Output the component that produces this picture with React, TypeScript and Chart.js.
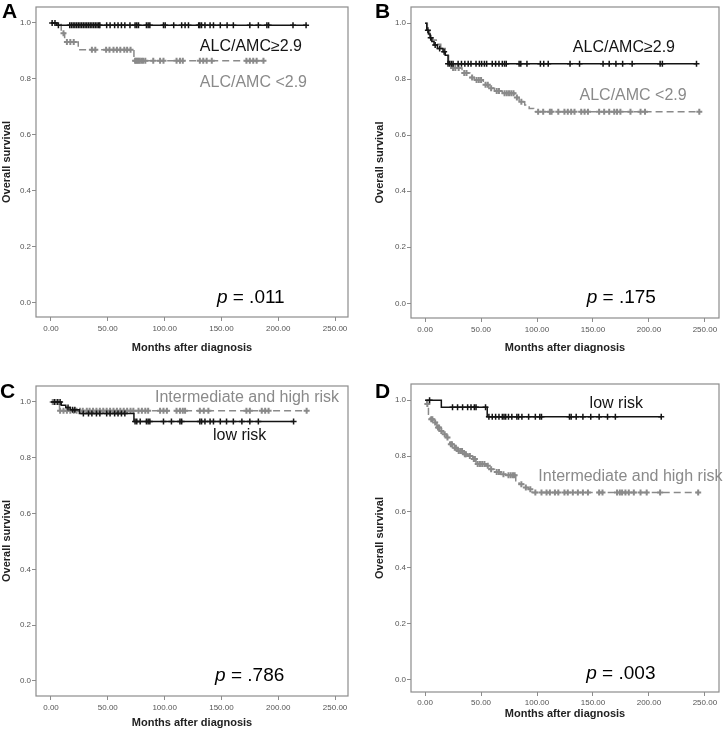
import React, { useEffect, useRef } from 'react';
import { Chart, registerables } from 'chart.js';

Chart.register(...registerables);

const FONT = "'Liberation Sans', Arial, Helvetica, sans-serif";
const BLACK = '#141414';
const GRAY = '#8a8a8a';

const xTickValues = [0, 50, 100, 150, 200, 250];
const yTickValues = [0, 0.2, 0.4, 0.6, 0.8, 1.0];

// ---- Panel A ----
const aHighStepTimes = [0, 5];
const aHighStepSurv = [1.0, 0.992];
const aHighEnd = 225;
const aHighCensor = [1, 3.5, 6.5, 16.5, 18, 19.5, 21, 22.5, 24, 25.5, 27, 28.5, 30, 31.5, 33, 34.5, 36, 37.5, 39, 40.5, 42, 43, 49, 52, 56, 59, 62, 65, 69.5, 74, 75.5, 77, 84, 85.5, 87, 99, 100.5, 108, 115, 118, 121, 130, 131, 132.5, 135.5, 140, 143, 149, 155, 160.5, 175, 182.5, 190, 191.5, 213, 224.5];

const aLowStepTimes = [0, 9, 12, 24, 73];
const aLowStepSurv = [1.0, 0.963, 0.932, 0.904, 0.865];
const aLowEnd = 187;
const aLowCensor = [11, 14, 17, 20, 36, 39, 48.5, 51.5, 55, 58, 61, 64.5, 67, 70, 74, 75, 76, 77, 78, 79.5, 81, 83, 90, 96, 99, 110.5, 113.5, 116, 131, 134, 137, 141.5, 172, 175, 178, 181, 187];

// ---- Panel B ----
const bHighStepTimes = [0, 1.5, 3, 4.5, 6, 8, 11, 16, 18, 20.5];
const bHighStepSurv = [1.0, 0.975, 0.962, 0.948, 0.935, 0.922, 0.91, 0.898, 0.886, 0.855];
const bHighEnd = 242.5;
const bHighCensor = [2.5, 5, 9, 13, 17, 20.5, 22, 23.5, 25, 29.5, 32.5, 35.5, 38.5, 41, 45.5, 48.5, 50.5, 53, 55, 60, 63, 66, 69, 71, 72.5, 84, 85.5, 91, 103, 106, 110, 129.5, 138, 159, 164.5, 170.5, 176.5, 185, 210, 212, 242.5];

const bLowStepTimes = [0, 2, 4, 7, 10, 14, 18, 21, 24, 33, 40, 44, 52, 57, 62, 69, 80, 84, 89, 93, 97];
const bLowStepSurv = [1.0, 0.97, 0.955, 0.94, 0.925, 0.91, 0.89, 0.855, 0.84, 0.822, 0.806, 0.797, 0.78, 0.768, 0.758, 0.75, 0.735, 0.72, 0.708, 0.696, 0.684];
const bLowEnd = 245;
const bLowCensor = [25, 27, 30, 35, 37, 42, 46, 48, 50, 54, 56, 59, 64, 66, 71, 73, 75, 77, 79, 82, 86, 101, 105.5, 111.5, 113, 119, 124.5, 127.5, 130.5, 133.5, 139.5, 142.5, 145.5, 155.5, 160, 164.5, 169, 171.5, 174.5, 183.5, 192.5, 196.5, 245];

// ---- Panel C ----
const cLowStepTimes = [0, 9, 13, 17, 25, 73];
const cLowStepSurv = [1.0, 0.988, 0.98, 0.972, 0.958, 0.93];
const cLowEnd = 213.5;
const cLowCensor = [3, 6, 8, 15, 19, 21, 28.5, 33, 36, 40, 43, 49, 52, 56, 59, 62, 65, 74, 75.5, 78.5, 84, 85.5, 87, 99, 106, 113.5, 115, 131, 132.5, 135.5, 140, 143, 149, 154.5, 160.5, 168, 175, 182.5, 213.5];

const cHighStepTimes = [0, 7.5];
const cHighStepSurv = [1.0, 0.968];
const cHighEnd = 225;
const cHighCensor = [1.5, 4.5, 8, 11, 14, 17, 20, 22.5, 25.5, 28, 31.5, 34, 37, 40, 43, 46, 49, 52, 55, 58, 61, 64, 67, 70, 72.5, 77, 80, 83, 85.5, 96, 99, 102, 110.5, 113.5, 116, 118, 131, 134.5, 138.5, 172, 175, 185.5, 188.5, 191.5, 225];

// ---- Panel D ----
const dLowStepTimes = [0, 14.5, 55.5];
const dLowStepSurv = [1.0, 0.975, 0.941];
const dLowEnd = 211;
const dLowCensor = [4, 24.5, 29, 33.5, 38, 41, 44, 45.5, 54, 57, 60, 63, 66, 69, 70.5, 72, 74.5, 77.5, 82, 83.5, 86.5, 92.5, 98.5, 102.5, 104, 129, 130.5, 135, 141, 148, 155.5, 163, 170, 211];

const dHighStepTimes = [0, 1.5, 3, 4.5, 7.5, 10.5, 13, 16, 19, 22, 25, 29, 34, 38, 42.5, 45.5, 54.5, 57.5, 62, 67.5, 72, 81, 84, 88, 92.5, 95.5];
const dHighStepSurv = [1.0, 0.986, 0.95, 0.932, 0.92, 0.902, 0.89, 0.878, 0.866, 0.842, 0.83, 0.818, 0.806, 0.8, 0.789, 0.771, 0.765, 0.753, 0.743, 0.735, 0.731, 0.711, 0.699, 0.687, 0.681, 0.669];
const dHighEnd = 244;
const dHighCensor = [2, 5.5, 6.5, 9, 11.5, 12.5, 14.5, 17.5, 20, 23, 24, 26.5, 27.5, 30, 31.5, 33, 35.5, 36.5, 40, 43.5, 44.5, 47, 49, 51, 53, 56, 59, 64, 66, 70, 74.5, 76.5, 78.5, 80, 86, 90, 94, 98.5, 104, 108.5, 111.5, 116, 119, 124.5, 127.5, 132, 136.5, 141, 145.5, 155.5, 158.5, 171.5, 174, 176, 179, 182, 186.5, 192.5, 198, 210, 244];

type Group = { times: number[]; surv: number[]; end: number; censor: number[]; color: string; dash: number[]; markW: number };
type Label = { text: string; x: number; y: number; color: string };
type Panel = {
  letter: string; letterX: number; letterY: number;
  left: number; top: number; w: number; h: number;
  box: { l: number; t: number; r: number; b: number };
  xMin: number; xMax: number; yMin: number; yMax: number;
  yTitlePad: number; xTitlePad: number; xTickPad: number;
  groups: Group[]; labels: Label[]; pText: string; pX: number; pY: number;
};

const blackGroup = (times: number[], surv: number[], end: number, censor: number[]): Group => ({ times, surv, end, censor, color: BLACK, dash: [], markW: 1.5 });
const grayGroup = (times: number[], surv: number[], end: number, censor: number[]): Group => ({ times, surv, end, censor, color: GRAY, dash: [7, 4], markW: 2 });

const panels: Panel[] = [
  {
    letter: 'A', letterX: 2, letterY: 18, left: 0, top: 0, w: 362, h: 366,
    box: { l: 36, t: 7, r: 348, b: 317 }, xMin: -13.2, xMax: 261.4, yMin: -0.05, yMax: 1.057,
    yTitlePad: 0, xTitlePad: 11.4, xTickPad: 3,
    groups: [blackGroup(aHighStepTimes, aHighStepSurv, aHighEnd, aHighCensor), grayGroup(aLowStepTimes, aLowStepSurv, aLowEnd, aLowCensor)],
    labels: [{ text: 'ALC/AMC\u22652.9', x: 131, y: 0.9, color: BLACK }, { text: 'ALC/AMC <2.9', x: 131, y: 0.771, color: GRAY }],
    pText: '.011', pX: 146, pY: 0,
  },
  {
    letter: 'B', letterX: 13, letterY: 18, left: 362, top: 0, w: 363, h: 366,
    box: { l: 49, t: 7, r: 361, b: 318 }, xMin: -12.6, xMax: 262.6, yMin: -0.0525, yMax: 1.058,
    yTitlePad: 11.4, xTitlePad: 11.4, xTickPad: 3,
    groups: [blackGroup(bHighStepTimes, bHighStepSurv, bHighEnd, bHighCensor), grayGroup(bLowStepTimes, bLowStepSurv, bLowEnd, bLowCensor)],
    labels: [{ text: 'ALC/AMC\u22652.9', x: 132, y: 0.897, color: BLACK }, { text: 'ALC/AMC <2.9', x: 138, y: 0.726, color: GRAY }],
    pText: '.175', pX: 144.4, pY: 0,
  },
  {
    letter: 'C', letterX: 0, letterY: 32, left: 0, top: 366, w: 362, h: 367,
    box: { l: 36, t: 20, r: 348, b: 330 }, xMin: -13.2, xMax: 261.4, yMin: -0.054, yMax: 1.057,
    yTitlePad: 0, xTitlePad: 3, xTickPad: 3,
    groups: [blackGroup(cLowStepTimes, cLowStepSurv, cLowEnd, cLowCensor), grayGroup(cHighStepTimes, cHighStepSurv, cHighEnd, cHighCensor)],
    labels: [{ text: 'Intermediate and high risk', x: 91.5, y: 1.0, color: GRAY }, { text: 'low risk', x: 142.6, y: 0.864, color: BLACK }],
    pText: '.786', pX: 144.4, pY: 0,
  },
  {
    letter: 'D', letterX: 13, letterY: 32, left: 362, top: 366, w: 363, h: 367,
    box: { l: 49, t: 18, r: 361, b: 326 }, xMin: -12.6, xMax: 262.6, yMin: -0.0455, yMax: 1.058,
    yTitlePad: 11.4, xTitlePad: 12.4, xTickPad: 2,
    groups: [blackGroup(dLowStepTimes, dLowStepSurv, dLowEnd, dLowCensor), grayGroup(dHighStepTimes, dHighStepSurv, dHighEnd, dHighCensor)],
    labels: [{ text: 'low risk', x: 147, y: 0.973, color: BLACK }, { text: 'Intermediate and high risk', x: 101.2, y: 0.711, color: GRAY }],
    pText: '.003', pX: 144, pY: 0,
  },
];

function survivalAt(times: number[], surv: number[], t: number) {
  let s = surv[0];
  for (let i = 0; i < times.length; i++) if (times[i] <= t) s = surv[i];
  return s;
}

function buildDatasets(groups: Group[]) {
  const ds: any[] = [];
  groups.forEach((g) => {
    const line = g.times.map((t, i) => ({ x: t, y: g.surv[i] }));
    line.push({ x: g.end, y: g.surv[g.surv.length - 1] });
    ds.push({
      data: line, stepped: true, borderColor: g.color, borderWidth: 1.5, borderDash: g.dash,
      borderCapStyle: 'butt', pointRadius: 0, fill: false,
    });
    ds.push({
      data: g.censor.map((t) => ({ x: t, y: survivalAt(g.times, g.surv, t) })),
      showLine: false, pointStyle: 'cross', pointRadius: 3, pointBorderWidth: g.markW,
      pointBorderColor: g.color, borderColor: g.color, backgroundColor: g.color,
    });
  });
  return ds;
}

const kmPlugin = {
  id: 'kmDecor',
  beforeDatasetsDraw(chart: any) {
    const { ctx, chartArea } = chart;
    ctx.save();
    ctx.strokeStyle = '#8c8c8c';
    ctx.lineWidth = 1.2;
    ctx.strokeRect(chartArea.left, chartArea.top, chartArea.right - chartArea.left, chartArea.bottom - chartArea.top);
    ctx.restore();
  },
  afterDraw(chart: any, _args: any, opts: any) {
    const p: Panel = opts.panel;
    if (!p) return;
    const { ctx } = chart;
    const xs = chart.scales.x;
    const ys = chart.scales.y;
    ctx.save();
    ctx.textBaseline = 'alphabetic';
    ctx.textAlign = 'left';
    ctx.fillStyle = '#000';
    ctx.font = `bold 21px ${FONT}`;
    ctx.fillText(p.letter, p.letterX, p.letterY);
    ctx.font = `16px ${FONT}`;
    p.labels.forEach((l) => {
      ctx.fillStyle = l.color;
      ctx.fillText(l.text, xs.getPixelForValue(l.x), ys.getPixelForValue(l.y));
    });
    const px = xs.getPixelForValue(p.pX);
    const py = ys.getPixelForValue(p.pY);
    ctx.fillStyle = '#000';
    ctx.font = `italic 19px ${FONT}`;
    ctx.fillText('p', px, py);
    const pw = ctx.measureText('p').width;
    ctx.font = `19px ${FONT}`;
    ctx.fillText(' = ' + p.pText, px + pw, py);
    ctx.restore();
  },
};

function makeConfig(p: Panel): any {
  return {
    type: 'line',
    data: { datasets: buildDatasets(p.groups) },
    options: {
      animation: false,
      responsive: false,
      maintainAspectRatio: false,
      events: [],
      layout: { padding: { left: 0, top: p.box.t, right: p.w - p.box.r, bottom: 0 } },
      plugins: { legend: { display: false }, tooltip: { enabled: false }, kmDecor: { panel: p } },
      scales: {
        x: {
          type: 'linear', min: p.xMin, max: p.xMax,
          afterFit: (s: any) => { s.height = p.h - p.box.b; },
          afterBuildTicks: (s: any) => { s.ticks = xTickValues.map((v) => ({ value: v })); },
          grid: { drawOnChartArea: false, drawTicks: true, tickLength: 4, color: '#8c8c8c', lineWidth: 1 },
          border: { display: false },
          ticks: { autoSkip: false, maxRotation: 0, padding: p.xTickPad, color: '#555', font: { size: 8, family: FONT }, callback: (v: any) => Number(v).toFixed(2) },
          title: { display: true, text: 'Months after diagnosis', color: '#222', font: { size: 11, weight: 'bold', family: FONT, lineHeight: 1.2 }, padding: { top: 0, bottom: p.xTitlePad } },
        },
        y: {
          type: 'linear', min: p.yMin, max: p.yMax,
          afterFit: (s: any) => { s.width = p.box.l; },
          afterBuildTicks: (s: any) => { s.ticks = yTickValues.map((v) => ({ value: v })); },
          grid: { drawOnChartArea: false, drawTicks: true, tickLength: 4, color: '#8c8c8c', lineWidth: 1 },
          border: { display: false },
          ticks: { autoSkip: false, padding: 1, color: '#555', font: { size: 8, family: FONT }, callback: (v: any) => Number(v).toFixed(1) },
          title: { display: true, text: 'Overall survival', color: '#222', font: { size: 11, weight: 'bold', family: FONT, lineHeight: 1.2 }, padding: { top: p.yTitlePad, bottom: 0 } },
        },
      },
    },
    plugins: [kmPlugin],
  };
}

function PanelChart({ panel }: { panel: Panel }) {
  const ref = useRef<HTMLCanvasElement>(null);
  useEffect(() => {
    if (!ref.current) return;
    const chart = new Chart(ref.current, makeConfig(panel));
    return () => chart.destroy();
  }, [panel]);
  return (
    <canvas
      ref={ref}
      width={panel.w}
      height={panel.h}
      style={{ position: 'absolute', left: panel.left, top: panel.top, width: panel.w, height: panel.h }}
    />
  );
}

export default function App() {
  return (
    <div style={{ position: 'fixed', left: 0, top: 0, width: 725, height: 733, background: '#fff', overflow: 'hidden' }}>
      {panels.map((p) => (
        <PanelChart key={p.letter} panel={p} />
      ))}
    </div>
  );
}
